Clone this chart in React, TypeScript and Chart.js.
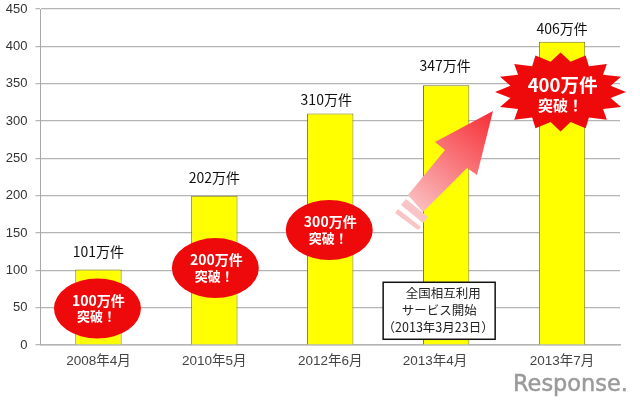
// 相互利用サービスの件数推移 (bar chart with hand-placed callouts on top)
import { useEffect, useRef } from 'react'
import { Chart, registerables, Plugin } from 'chart.js'

Chart.register(...registerables)

const categories = ['2008年4月', '2010年5月', '2012年6月', '2013年4月', '2013年7月']
const barValues = [101, 200, 310, 348, 406]
const barLabels = ['101万件', '202万件', '310万件', '347万件', '406万件']
const yTicks = [0, 50, 100, 150, 200, 250, 300, 350, 400, 450]
const milestoneLines = [
  ['100万件', '突破！'],
  ['200万件', '突破！'],
  ['300万件', '突破！'],
]
const starLines = ['400万件', '突破！']
const noteLines = ['全国相互利用', 'サービス開始', '（2013年3月23日）']

const JP = '"Noto Sans CJK JP", "Liberation Sans", sans-serif'
const LATIN = '"Liberation Sans", "Noto Sans CJK JP", sans-serif'

const overlayPlugin: Plugin<'bar'> = {
  id: 'overlay',
  afterDatasetsDraw(chart) {
    const { ctx } = chart
    const x = chart.scales.x
    const y = chart.scales.y
    ctx.save()
    ctx.textAlign = 'center'
    ctx.textBaseline = 'middle'

    // value labels above the bars
    const labelRise = [18, 18, 14, 19, 13]
    const labelShift = [0, 0, -4, -1, 0]
    barLabels.forEach((text, i) => {
      ctx.fillStyle = '#111'
      ctx.font = `14px ${JP}`
      ctx.fillText(text, x.getPixelForValue(i) + labelShift[i], y.getPixelForValue(barValues[i]) - labelRise[i])
    })

    // red milestone ovals
    const ovalValues = [49, 103, 154]
    const ovalShift = [-1, 1, -1]
    milestoneLines.forEach((lines, i) => {
      const cx = x.getPixelForValue(i) + ovalShift[i]
      const cy = y.getPixelForValue(ovalValues[i])
      ctx.fillStyle = '#ee0a0a'
      ctx.beginPath()
      ctx.ellipse(cx, cy, 43.5, 30, 0, 0, Math.PI * 2)
      ctx.fill()
      ctx.fillStyle = '#fff'
      ctx.font = `bold 14px ${JP}`
      ctx.fillText(lines[0], cx + 1, cy - 8)
      ctx.font = `bold 13px ${JP}`
      ctx.fillText(lines[1], cx - 1, cy + 8)
    })

    // note box on the 2013年4月 bar
    const noteX = x.getPixelForValue(3) - 63
    const noteY = y.getPixelForValue(84)
    ctx.fillStyle = '#fff'
    ctx.strokeStyle = '#111'
    ctx.lineWidth = 1.5
    ctx.fillRect(noteX, noteY, 112, 57)
    ctx.strokeRect(noteX, noteY, 112, 57)
    ctx.fillStyle = '#222'
    ctx.font = `12.5px ${JP}`
    ctx.fillText(noteLines[0], noteX + 60, noteY + 11)
    ctx.fillText(noteLines[1], noteX + 56, noteY + 28)
    ctx.fillText(noteLines[2], noteX + 55, noteY + 45)

    // arrow towards the burst, fading out at the tail
    const grad = ctx.createLinearGradient(405, 225, 490, 115)
    grad.addColorStop(0, '#fbd6d6')
    grad.addColorStop(1, '#f7323a')
    ctx.fillStyle = grad
    const arrow = [[408, 195], [445, 150], [435, 142], [493, 111], [477, 175], [467, 168], [423, 212]]
    ctx.beginPath()
    arrow.forEach(([px, py], i) => (i ? ctx.lineTo(px, py) : ctx.moveTo(px, py)))
    ctx.closePath()
    ctx.fill()
    ctx.fillStyle = '#f8c4c6'
    const stripes = [
      [[406, 199], [428, 217], [423, 223], [401, 205]],
      [[398, 209], [421, 227], [418, 230], [395, 213]],
    ]
    stripes.forEach((s) => {
      ctx.beginPath()
      s.forEach(([px, py], i) => (i ? ctx.lineTo(px, py) : ctx.moveTo(px, py)))
      ctx.closePath()
      ctx.fill()
    })

    // 400万件 burst
    const sx = x.getPixelForValue(4) - 1.5
    const sy = y.getPixelForValue(339)
    const spikes = 16
    ctx.fillStyle = '#ee0a0a'
    ctx.beginPath()
    for (let i = 0; i < spikes * 2; i++) {
      const a = (i * Math.PI) / spikes
      const r = i % 2 ? 0.78 : 1
      const px = sx + Math.sin(a) * 65.5 * r
      const py = sy - Math.cos(a) * 39.5 * r
      if (i) ctx.lineTo(px, py)
      else ctx.moveTo(px, py)
    }
    ctx.closePath()
    ctx.fill()
    ctx.fillStyle = '#fff'
    ctx.font = `bold 18.5px ${JP}`
    ctx.fillText(starLines[0], sx + 2, sy - 7)
    ctx.font = `bold 15px ${JP}`
    ctx.fillText(starLines[1], sx, sy + 13)

    // site mark, bottom right
    ctx.fillStyle = '#9a9a9a'
    ctx.strokeStyle = '#9a9a9a'
    ctx.lineWidth = 0.5
    ctx.textAlign = 'left'
    ctx.textBaseline = 'alphabetic'
    ctx.font = `23px "DejaVu Sans", sans-serif`
    ctx.fillText('Response.', 513, 391, 115)
    ctx.strokeText('Response.', 513, 391, 115)
    ctx.restore()
  },
}

const App = () => {
  const canvasRef = useRef<HTMLCanvasElement>(null)

  useEffect(() => {
    if (!canvasRef.current) return
    document.body.style.margin = '0'

    const chart = new Chart(canvasRef.current, {
      type: 'bar',
      data: {
        labels: categories,
        datasets: [
          {
            data: barValues,
            backgroundColor: '#ffff00',
            borderColor: '#77771f',
            borderWidth: 1,
            categoryPercentage: 1,
            barPercentage: 0.4,
          },
        ],
      },
      options: {
        responsive: false,
        animation: false,
        devicePixelRatio: 1,
        layout: { padding: { top: 9, right: 20, left: 0, bottom: 0 } },
        plugins: { legend: { display: false }, tooltip: { enabled: false } },
        scales: {
          x: {
            grid: { display: false },
            border: { color: '#b4b4b4', width: 1.5 },
            afterFit: (scale) => {
              scale.height = 59
            },
            ticks: {
              color: '#444',
              font: { size: 13.5, family: LATIN },
              maxRotation: 0,
              padding: 0,
              // the 2013年4月 label sits left of its bar in the original
              callback: (_v, i) => (i === 3 ? categories[i] + '      ' : categories[i]),
            },
          },
          y: {
            min: 0,
            max: 450,
            afterFit: (scale) => {
              scale.width = 40.5
              // tick padding would otherwise push the plot top down
              scale.paddingTop = 0
              scale.paddingBottom = 0
            },
            afterBuildTicks: (scale) => {
              scale.ticks = yTicks.map((value) => ({ value }))
            },
            grid: { color: '#b4b4b4', lineWidth: 1.2, tickLength: 5 },
            border: { color: '#a8a8a8', width: 1 },
            ticks: { color: '#333', font: { size: 13, family: LATIN }, padding: 8 },
          },
        },
      },
      plugins: [overlayPlugin],
    })

    return () => chart.destroy()
  }, [])

  return <canvas ref={canvasRef} width={640} height={404} style={{ display: 'block' }} aria-label="件数の推移" />
}

export default App
